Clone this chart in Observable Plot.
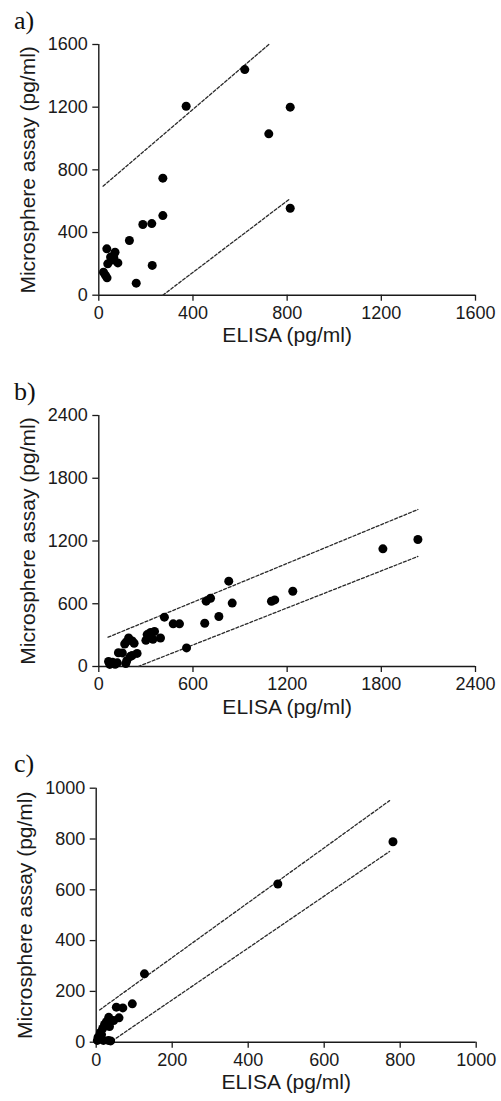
<!DOCTYPE html>
<html><head><meta charset="utf-8">
<script src="https://cdn.jsdelivr.net/npm/d3@7"></script>
<script src="https://cdn.jsdelivr.net/npm/@observablehq/plot@0.6"></script>
<style>
body{margin:0;background:#fff;}
#wrap{position:relative;width:501px;height:1101px;overflow:hidden;background:#fff;}
.panel{position:absolute;left:0;}
.lab{position:absolute;left:14px;font-family:"Liberation Serif","Times New Roman",serif;font-size:26px;line-height:1;color:#111;}
</style></head><body><div id="wrap"></div>
<script>
// Panel a
const aElisa = [620, 371, 813, 722, 272, 272, 813, 187, 225, 130, 34, 69, 50, 64, 57, 38, 81, 20, 28, 35, 159, 227];
const aMicro = [1440, 1206, 1200, 1030, 747, 508, 555, 451, 457, 349, 296, 274, 243, 238, 225, 200, 206, 147, 128, 111, 77, 190];
const aUpperX = [18, 722], aUpperY = [696, 1600];
const aLowerX = [272, 808], aLowerY = [0, 611];
const aTicks = [0, 400, 800, 1200, 1600];
// Panel b
const bElisa = [62, 70, 88, 104, 118, 172, 178, 200, 212, 244, 125, 150, 165, 175, 190, 213, 225, 300, 308, 330, 345, 355, 393, 418, 474, 514, 559, 675, 684, 712, 765, 828, 850, 1100, 1121, 1236, 1810, 2033];
const bMicro = [48, 20, 40, 22, 35, 28, 55, 95, 105, 125, 132, 130, 215, 235, 272, 245, 222, 250, 305, 325, 260, 335, 272, 472, 408, 408, 178, 414, 625, 653, 478, 816, 606, 624, 637, 720, 1125, 1214];
const bUpperX = [59, 2033], bUpperY = [280, 1501];
const bLowerX = [251, 2033], bLowerY = [0, 1052];
const bTicks = [0, 600, 1200, 1800, 2400];
// Panel c
const cElisa = [781, 478, 127, 95, 70, 53, 60, 33, 46, 35, 3, 9, 11, 17, 22, 27, 19, 32, 5, 14, 38];
const cMicro = [789, 623, 269, 151, 135, 138, 96, 98, 85, 62, 7, 22, 38, 54, 70, 81, 7, 7, 20, 30, 5];
const cUpperX = [9, 772], cUpperY = [127, 951];
const cLowerX = [42, 772], cLowerY = [5, 751];
const cTicks = [0, 200, 400, 600, 800, 1000];

const panelLabels = ["a)", "b)", "c)"];
const xLabel = "ELISA (pg/ml)";
const yLabel = "Microsphere assay (pg/ml)";

const wrap = document.getElementById("wrap");
const ink = "#1a1a1a";

function makePanel(o) {
  const pts = o.elisa.map((e, i) => ({e, m: o.micro[i]}));
  const up = o.upX.map((x, i) => ({x, y: o.upY[i]}));
  const lo = o.loX.map((x, i) => ({x, y: o.loY[i]}));
  const max = o.ticks[o.ticks.length - 1];
  const p = Plot.plot({
    width: 501, height: o.height,
    marginTop: o.mt, marginBottom: o.mb, marginLeft: o.ml, marginRight: 501 - o.xr,
    style: {fontFamily: "'Liberation Sans', Arial, sans-serif", fontSize: "18px", color: ink, background: "#fff", overflow: "visible"},
    x: {domain: [0, max]},
    y: {domain: [0, max]},
    marks: [
      Plot.ruleX([0], {stroke: ink, strokeWidth: 1.4}),
      Plot.ruleY([0], {stroke: ink, strokeWidth: 1.4}),
      Plot.axisX(o.ticks, {tickSize: 6, tickPadding: 5, tickFormat: "d", label: null, fontSize: 18, stroke: ink, strokeWidth: 1.3, fill: ink}),
      Plot.axisY(o.ticks, {tickSize: 6, tickPadding: 5, tickFormat: "d", label: null, fontSize: 18, stroke: ink, strokeWidth: 1.3, fill: ink}),
      Plot.line(up, {x: "x", y: "y", stroke: "#2a2a2a", strokeWidth: 1.3, strokeDasharray: "3,2"}),
      Plot.line(lo, {x: "x", y: "y", stroke: "#2a2a2a", strokeWidth: 1.3, strokeDasharray: "3,2"}),
      Plot.dot(pts, {x: "e", y: "m", r: 4.5, fill: "#000", stroke: null}),
      Plot.text([xLabel], {text: d => d, frameAnchor: "bottom", textAnchor: "middle", dy: 47, fontSize: 21, fill: ink}),
      Plot.text([yLabel], {text: d => d, frameAnchor: "left", textAnchor: "middle", lineAnchor: "middle", dx: -71, rotate: -90, fontSize: 21, fill: ink})
    ]
  });
  p.classList.add("panel");
  p.style.top = o.top + "px";
  wrap.appendChild(p);
  const l = document.createElement("div");
  l.className = "lab";
  l.textContent = o.label;
  l.style.top = o.labTop + "px";
  wrap.appendChild(l);
}

makePanel({elisa: aElisa, micro: aMicro, upX: aUpperX, upY: aUpperY, loX: aLowerX, loY: aLowerY, ticks: aTicks,
  top: 0, height: 355, mt: 44, mb: 60.3, ml: 98.3, xr: 475, label: panelLabels[0], labTop: 7.5});
makePanel({elisa: bElisa, micro: bMicro, upX: bUpperX, upY: bUpperY, loX: bLowerX, loY: bLowerY, ticks: bTicks,
  top: 360, height: 380, mt: 55, mb: 74, ml: 98.3, xr: 475, label: panelLabels[1], labTop: 379.2});
makePanel({elisa: cElisa, micro: cMicro, upX: cUpperX, upY: cUpperY, loX: cLowerX, loY: cLowerY, ticks: cTicks,
  top: 740, height: 361, mt: 47.7, mb: 59.3, ml: 95.7, xr: 475.7, label: panelLabels[2], labTop: 751.2});
</script></body></html>
